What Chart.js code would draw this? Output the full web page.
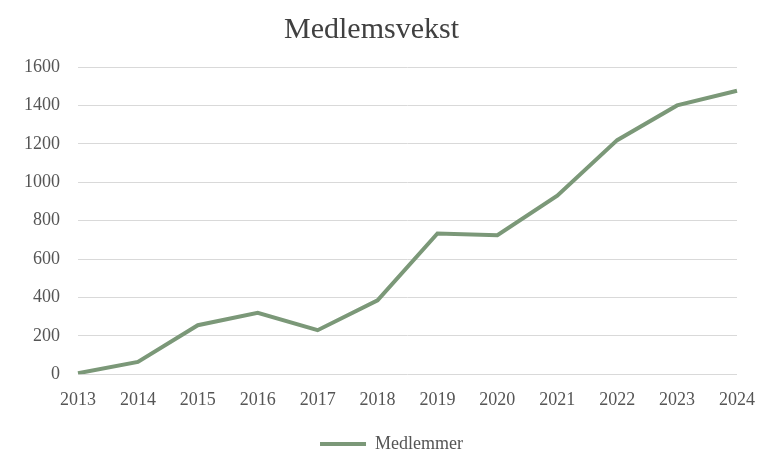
<!DOCTYPE html>
<html><head><meta charset="utf-8">
<script src="https://cdn.jsdelivr.net/npm/chart.js@4"></script>
<style>html,body{margin:0;padding:0;background:#fff;}#wrap{width:759px;height:455px;}</style>
</head><body><div id="wrap"><canvas id="c"></canvas></div>
<script>
const years = ["2013","2014","2015","2016","2017","2018","2019","2020","2021","2022","2023","2024"];
const members = [5, 64, 255, 320, 229, 385, 733, 724, 930, 1219, 1400, 1476];
const yTicks = [0,200,400,600,800,1000,1200,1400,1600];
const lineColor = "#7b9878";
const legendShift = {
  id: 'legendShift',
  afterLayout(chart) { if (chart.legend) { chart.legend.left += 20; chart.legend.right += 20; } }
};
new Chart(document.getElementById('c'), {
  type: 'line',
  data: { labels: years, datasets: [{ label: 'Medlemmer', data: members, borderColor: lineColor, backgroundColor: lineColor, borderWidth: 4, pointRadius: 0, tension: 0 }] },
  options: {
    responsive: true, maintainAspectRatio: false, animation: false,
    layout: { padding: { left: 6, right: 22, top: 12, bottom: -8 } },
    plugins: {
      title: { display: true, text: 'Medlemsvekst', color: '#404040', font: { family: 'Liberation Serif', size: 30, weight: 'normal' }, padding: { top: 0, bottom: 19 } },
      legend: { position: 'bottom', labels: { usePointStyle: true, pointStyle: 'line', pointStyleWidth: 46, boxHeight: 4, color: '#555', font: { family: 'Liberation Serif', size: 18 }, padding: 8 } },
      tooltip: { enabled: false }
    },
    scales: {
      x: { offset: false, grid: { display: false, drawTicks: false }, border: { display: false },
           afterFit: s => { s.paddingRight = 0; },
           ticks: { color: '#555', font: { family: 'Liberation Serif', size: 18, lineHeight: 1.6 }, padding: 12, maxRotation: 0 } },
      y: { min: 0, max: 1600, afterBuildTicks: a => { a.ticks = yTicks.map(v => ({ value: v })); },
           grid: { color: '#d9d9d9', lineWidth: 1, drawTicks: false }, border: { display: false },
           ticks: { color: '#555', font: { family: 'Liberation Serif', size: 18 }, padding: 18, callback: v => String(v) } }
    }
  },
  plugins: [legendShift]
});
</script></body></html>
